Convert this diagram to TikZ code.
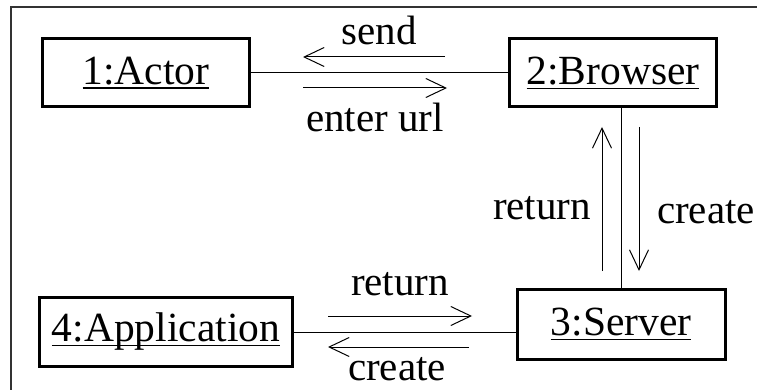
\documentclass[tikz,border=0pt]{standalone}
\usepackage{fontspec}
\setmainfont{Liberation Serif}
\usetikzlibrary{arrows.meta, calc}

% object name, underlined close to the baseline
\newcommand{\objname}[1]{\setbox0\hbox{#1}\rlap{\rule[-4pt]{\wd0}{1.2pt}}\box0}

\begin{document}
\begin{tikzpicture}[
  x=1pt, y=-1pt,
  obj/.style={rectangle, draw, line width=3pt, minimum width=207pt, minimum height=68pt, inner sep=0pt, font=\fontsize{41.5}{48}\selectfont},
  link/.style={line width=1pt},
  msg/.style={-{Straight Barb[length=20pt, width=19pt]}, line width=1pt},
  lbl/.style={anchor=base, inner sep=0pt, font=\fontsize{41}{48}\selectfont},
]
  \useasboundingbox (0,0) rectangle (757,390);

  % frame
  \draw[line width=1.3pt, black!80] (757,7) -- (11,7) -- (11,390);

  \node[obj] (actor) at (146,73) {\objname{1:Actor}};
  \node[obj] (browser) at (613,73) {\objname{2:Browser}};
  \node[obj, minimum width=253pt, minimum height=69pt] (app) at (166,332) {\objname{4:Application}};
  \node[obj, minimum width=208pt, minimum height=70pt] (server) at (621,324) {\objname{3:Server}};

  \draw[link] (actor) -- (browser);
  \draw[link] (server.north) -- (server.north |- browser.south);
  \draw[link] (app.east) -- (app.east -| server.west);

  % messages
  \coordinate (sendA) at (445,57);   \coordinate (sendB) at (303,57);
  \coordinate (urlA) at (303,88);    \coordinate (urlB) at (447,88);
  \coordinate (retA) at (602,271);   \coordinate (retB) at (602,127);
  \coordinate (newA) at (639,127);   \coordinate (newB) at (639,271);
  \coordinate (backA) at (328,316);  \coordinate (backB) at (472,316);
  \coordinate (makeA) at (469,347);  \coordinate (makeB) at (328,347);

  \draw[msg] (sendA) -- (sendB);
  \draw[msg] (urlA) -- (urlB);
  \draw[msg] (retA) -- (retB);
  \draw[msg] (newA) -- (newB);
  \draw[msg] (backA) -- (backB);
  \draw[msg] (makeA) -- (makeB);

  \node[lbl] (send) at (379,45) {send};
  \node[lbl] (url) at (375,132) {enter url};
  \node[lbl] (ret) at (542,219) {return};
  \node[lbl] (new) at (706,223) {create};
  \node[lbl] (back) at (400,295) {return};
  \node[lbl] (make) at (397,380) {create};
\end{tikzpicture}
\end{document}
